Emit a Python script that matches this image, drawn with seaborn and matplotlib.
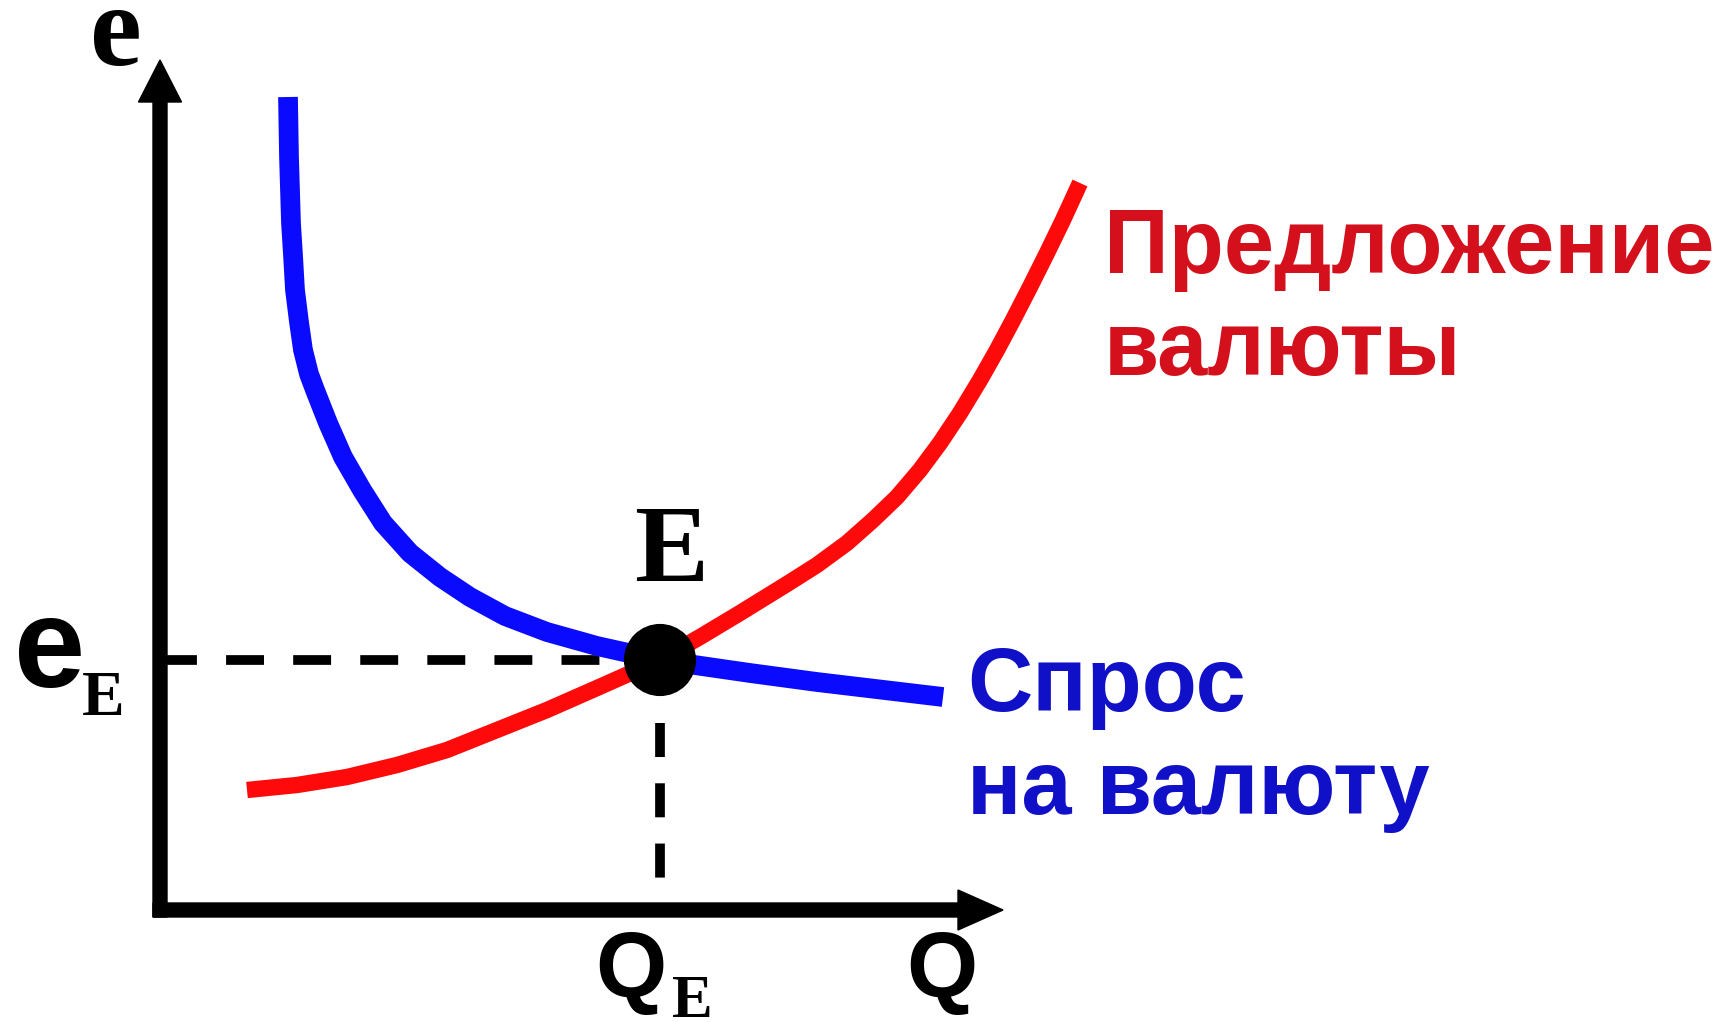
import matplotlib
matplotlib.use("Agg")
import matplotlib.pyplot as plt
import seaborn as sns

# demand for currency (blue): Q, e
demand_q = [1.28, 1.29, 1.31, 1.33, 1.35, 1.39, 1.43, 1.49, 1.55, 1.68, 1.83, 2.02, 2.23,
            2.50, 2.80, 3.10, 3.45, 3.87, 4.37, 5.00, 5.90, 6.57, 7.83]
demand_e = [8.13, 7.53, 6.87, 6.55, 6.20, 5.88, 5.60, 5.36, 5.20, 4.87, 4.53, 4.20, 3.87,
            3.57, 3.33, 3.13, 2.94, 2.78, 2.64, 2.50, 2.37, 2.28, 2.13]

# supply of currency (red)
supply_q = [0.87, 1.37, 1.87, 2.37, 2.87, 3.37, 3.87, 4.37, 5.00, 5.40, 5.80, 6.27, 6.57,
            6.87, 7.13, 7.37, 7.60, 7.80, 8.00, 8.20, 8.37, 8.53, 8.70, 8.87, 9.03, 9.20]
supply_e = [1.20, 1.25, 1.33, 1.45, 1.60, 1.80, 2.00, 2.22, 2.50, 2.73, 2.97, 3.26, 3.45,
            3.67, 3.90, 4.13, 4.40, 4.67, 4.97, 5.30, 5.60, 5.90, 6.23, 6.57, 6.90, 7.27]

# equilibrium
eq_q = 5.00
eq_e = 2.50

supply_label = ["Предложение", "валюты"]
demand_label = ["Спрос", "на валюту"]

sns.set_theme(style="white")
plt.rcParams["font.family"] = ["Liberation Sans", "DejaVu Sans"]
plt.rcParams["text.color"] = "black"

fig = plt.figure(figsize=(17.25, 10.22), dpi=100)
ax = fig.add_axes([0, 0, 1, 1])
ax.set_xlim(-1.60, 15.65)
ax.set_ylim(-1.12, 9.10)
ax.set_axis_off()

# axes with arrows
ax.arrow(0, -0.07, 0, 8.57, width=0.14, head_width=0.43, head_length=0.42,
         length_includes_head=True, color="black", zorder=3)
ax.arrow(-0.07, 0, 8.50, 0, width=0.14, head_width=0.40, head_length=0.45,
         length_includes_head=True, color="black", zorder=3)

# dashed guides
ax.plot([-0.01, eq_q], [eq_e, eq_e], color="black", linewidth=7, dashes=(3.9, 3.0), zorder=2)
ax.plot([eq_q, eq_q], [1.87, 0.30], color="black", linewidth=7, dashes=(3.5, 2.7), zorder=2)

# curves
sns.lineplot(x=supply_q, y=supply_e, sort=False, color="#ff0a0a", linewidth=11.8, ax=ax,
             solid_capstyle="butt", solid_joinstyle="round", zorder=4)
sns.lineplot(x=demand_q, y=demand_e, sort=False, color="#0a0aff", linewidth=14.2, ax=ax,
             solid_capstyle="butt", solid_joinstyle="round", zorder=5)
sns.scatterplot(x=[eq_q], y=[eq_e], s=2700, color="black", edgecolor="none", ax=ax, zorder=6)

# curve labels
red_txt = "#d4101c"
blue_txt = "#1010c8"
ax.text(9.44, 6.37, supply_label[0], fontsize=65, fontweight="bold", color=red_txt, va="baseline")
ax.text(9.44, 5.35, supply_label[1], fontsize=65, fontweight="bold", color=red_txt, va="baseline")
ax.text(8.07, 1.99, demand_label[0], fontsize=65, fontweight="bold", color=blue_txt, va="baseline")
ax.text(8.07, 0.96, demand_label[1], fontsize=65, fontweight="bold", color=blue_txt, va="baseline")

# axis labels
serif = ["Liberation Serif", "DejaVu Serif"]
ax.text(-0.44, 8.45, "e", fontsize=84, fontweight="bold", family=serif, ha="center", va="baseline")
ax.text(-1.46, 2.23, "e", fontsize=92, fontweight="bold", ha="left", va="baseline")
ax.text(-0.78, 1.95, "E", fontsize=46, fontweight="bold", family=serif, ha="left", va="baseline")
ax.text(5.11, 3.29, "E", fontsize=80, fontweight="bold", family=serif, ha="center", va="baseline")
ax.text(4.35, -0.87, "Q", fontsize=66, fontweight="bold", ha="left", va="baseline")
ax.text(5.12, -1.07, "E", fontsize=44, fontweight="bold", family=serif, ha="left", va="baseline")
ax.text(7.46, -0.87, "Q", fontsize=66, fontweight="bold", ha="left", va="baseline")

fig.savefig("out.png", dpi=100, facecolor="white")
